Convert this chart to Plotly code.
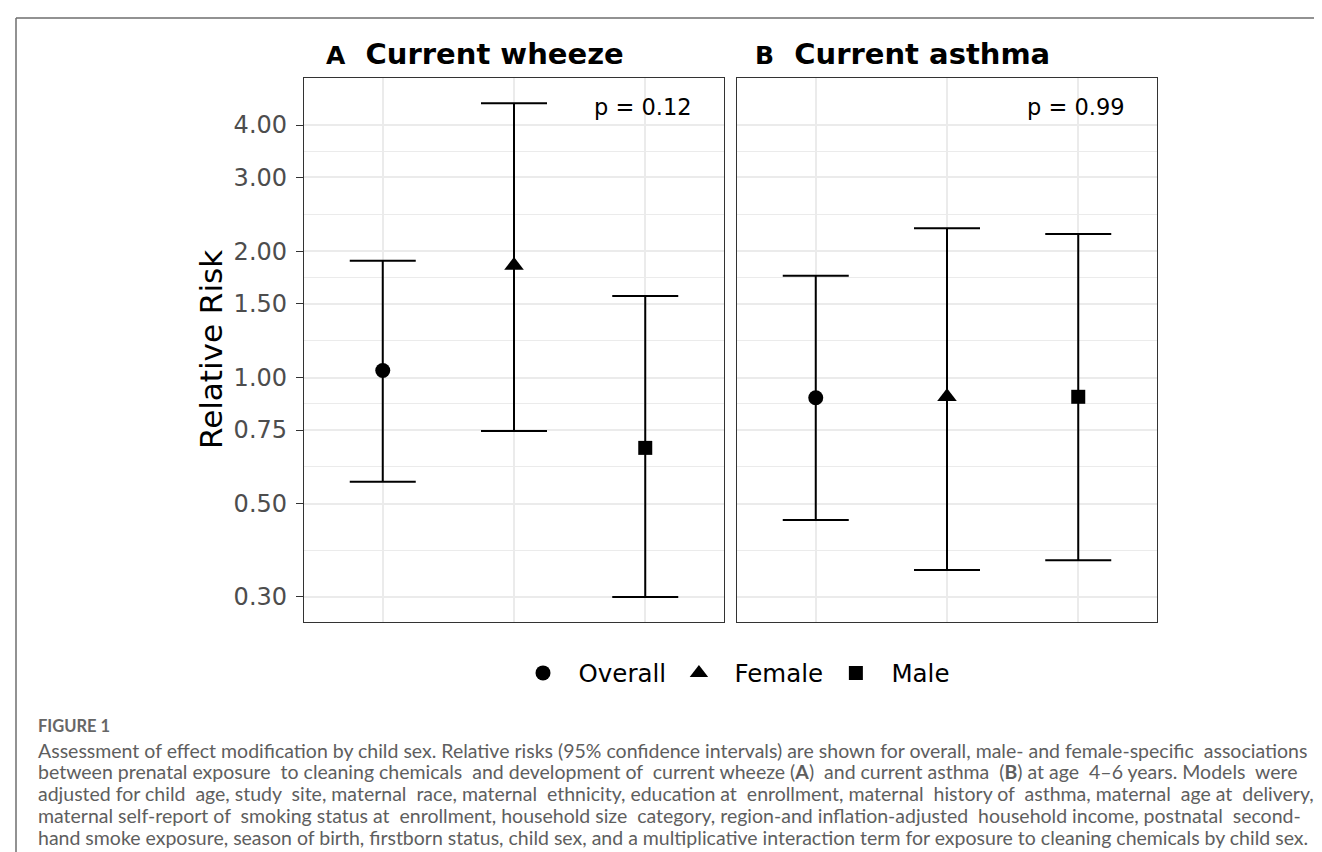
import numpy as np
import plotly.graph_objects as go

# ---------------- data ----------------
groups = ["Overall", "Female", "Male"]
group_symbols = ["circle", "triangle-up", "square"]
group_sizes = [15, 17, 14]

wheeze_rr = [1.04, 1.85, 0.68]
wheeze_lo = [0.565, 0.746, 0.30]
wheeze_hi = [1.90, 4.51, 1.565]

asthma_rr = [0.895, 0.90, 0.90]
asthma_lo = [0.458, 0.348, 0.367]
asthma_hi = [1.75, 2.27, 2.20]

panel_tags = ["A", "B"]
panel_titles = ["Current wheeze", "Current asthma"]
p_values = ["p = 0.12", "p = 0.99"]
y_ticks = [0.30, 0.50, 0.75, 1.00, 1.50, 2.00, 3.00, 4.00]
ref_value = 1.0

caption_head = "FIGURE 1"
caption_lines = [
    "Assessment of effect modification by child sex. Relative risks (95% confidence intervals) are shown for overall, male- and female-specific associations",
    "between prenatal exposure to cleaning chemicals and development of current wheeze (<b>A</b>) and current asthma (<b>B</b>) at age 4\u20136 years. Models were",
    "adjusted for child age, study site, maternal race, maternal ethnicity, education at enrollment, maternal history of asthma, maternal age at delivery,",
    "maternal self-report of smoking status at enrollment, household size category, region-and inflation-adjusted household income, postnatal second-",
    "hand smoke exposure, season of birth, firstborn status, child sex, and a multiplicative interaction term for exposure to cleaning chemicals by child sex.",
]
# extra word-space padding per caption line (to mimic the justified block)
caption_pad = [1, 7, 9, 5, 0]

# ---------------- layout geometry (pixels) ----------------
W, H = 1322, 852
def px_x(v):
    return v / W
def px_y(v):
    return (H - v) / H

panelA = (296, 716)
panelB = (729, 1149)
ptop, pbot = 70, 614
y_range = [-0.5825, 0.7141]

minor_ticks = [float(np.sqrt(a * b)) for a, b in zip(y_ticks[:-1], y_ticks[1:])]

FONT = "DejaVu Sans"
GRID = "#EBEBEB"
BORDER = "#333333"
NB = "\u00a0"


def justify(line, extra):
    words = line.split(" ")
    gaps = len(words) - 1
    out = words[0]
    for j in range(gaps):
        n = (j + 1) * extra // gaps - j * extra // gaps
        out += " " + NB * n + words[j + 1]
    return out


fig = go.Figure()

panels = [
    (wheeze_rr, wheeze_lo, wheeze_hi, "x", "y"),
    (asthma_rr, asthma_lo, asthma_hi, "x2", "y2"),
]
for pi, (rr, lo, hi, xa, ya) in enumerate(panels):
    for gi, g in enumerate(groups):
        fig.add_trace(go.Scatter(
            x=[gi + 1], y=[rr[gi]],
            mode="markers",
            name=NB * 2 + g + NB, legendgroup=g, showlegend=(pi == 0),
            marker=dict(symbol=group_symbols[gi], size=group_sizes[gi], color="black"),
            error_y=dict(type="data", symmetric=False,
                         array=[hi[gi] - rr[gi]], arrayminus=[rr[gi] - lo[gi]],
                         color="black", thickness=2, width=33),
            xaxis=xa, yaxis=ya,
            hoverinfo="skip",
        ))

xaxis_common = dict(range=[0.4, 3.6], tickvals=[1, 2, 3], showticklabels=False, ticks="",
                    showgrid=True, gridcolor=GRID, gridwidth=1.6, zeroline=False,
                    showline=True, mirror=True, linecolor=BORDER, linewidth=1.3)
yaxis_common = dict(type="log", range=y_range, tickvals=y_ticks,
                    ticktext=[f"{v:.2f}" for v in y_ticks],
                    showgrid=True, gridcolor=GRID, gridwidth=1.6, zeroline=False,
                    showline=True, mirror=True, linecolor=BORDER, linewidth=1.3,
                    minor=dict(tickvals=minor_ticks, showgrid=True, gridcolor=GRID,
                               gridwidth=1.1, ticks=""))

fig.update_layout(
    width=W, height=H,
    margin=dict(l=0, r=0, t=0, b=0),
    paper_bgcolor="white", plot_bgcolor="white",
    xaxis=dict(domain=[px_x(panelA[0]), px_x(panelA[1])], **xaxis_common),
    xaxis2=dict(domain=[px_x(panelB[0]), px_x(panelB[1])], anchor="y2", **xaxis_common),
    yaxis=dict(domain=[px_y(pbot), px_y(ptop)], anchor="x",
               ticks="outside", ticklen=7, tickwidth=1.3, tickcolor=BORDER,
               tickfont=dict(family=FONT, size=24, color="#4D4D4D"),
               ticklabelstandoff=4, **yaxis_common),
    yaxis2=dict(domain=[px_y(pbot), px_y(ptop)], anchor="x2", matches="y",
                showticklabels=False, ticks="", **yaxis_common),
    showlegend=True,
    legend=dict(orientation="h", x=px_x(735), xanchor="center",
                y=px_y(665), yanchor="middle",
                font=dict(family=FONT, size=24.5, color="black"),
                bgcolor="rgba(0,0,0,0)"),
)

# reference dashed line at RR = 1
for xa, ya in [("x", "y"), ("x2", "y2")]:
    fig.add_shape(type="line", xref=f"{xa} domain", yref=ya,
                  x0=0, x1=1, y0=np.log10(ref_value), y1=np.log10(ref_value),
                  line=dict(color="black", width=2, dash="8px,7px"), layer="above")

# panel titles and p-values
title_x = [316, 745]
p_x = [686, 1119]
for i in range(2):
    fig.add_annotation(xref="paper", yref="paper", x=px_x(title_x[i]), y=px_y(46),
                       xanchor="left", yanchor="middle", showarrow=False,
                       text=f"<b><span style='font-size:25px'>{panel_tags[i]}</span>  {panel_titles[i]}</b>",
                       font=dict(family=FONT, size=29, color="black"))
    fig.add_annotation(xref="paper", yref="paper", x=px_x(p_x[i]), y=px_y(99),
                       xanchor="right", yanchor="middle", showarrow=False,
                       text=p_values[i], font=dict(family=FONT, size=22.5, color="black"))

# y axis title
fig.add_annotation(xref="paper", yref="paper", x=px_x(203), y=px_y(342),
                   xanchor="center", yanchor="middle", showarrow=False, textangle=-90,
                   text="Relative Risk", font=dict(family=FONT, size=31, color="black"))

# caption
CAP_FONT = "Lato"
CAP_X = 28
fig.add_annotation(xref="paper", yref="paper", x=px_x(CAP_X), y=px_y(718),
                   xanchor="left", yanchor="middle", showarrow=False,
                   text=f"<b>{caption_head}</b>", font=dict(family=CAP_FONT, size=16.5, color="#666666"))
for k, line in enumerate(caption_lines):
    fig.add_annotation(xref="paper", yref="paper", x=px_x(CAP_X), y=px_y(742 + 21.8 * k),
                       xanchor="left", yanchor="middle", showarrow=False,
                       text=justify(line, caption_pad[k]),
                       font=dict(family=CAP_FONT, size=19.5, color="#5e5e5e"))

# outer frame (left and top edges)
fig.add_shape(type="line", xref="paper", yref="paper", x0=px_x(8), x1=px_x(8), y0=0, y1=px_y(10),
              line=dict(color="#6e6e6e", width=1.5))
fig.add_shape(type="line", xref="paper", yref="paper", x0=px_x(8), x1=1, y0=px_y(10), y1=px_y(10),
              line=dict(color="#6e6e6e", width=1.5))

fig.write_html("out.html")
